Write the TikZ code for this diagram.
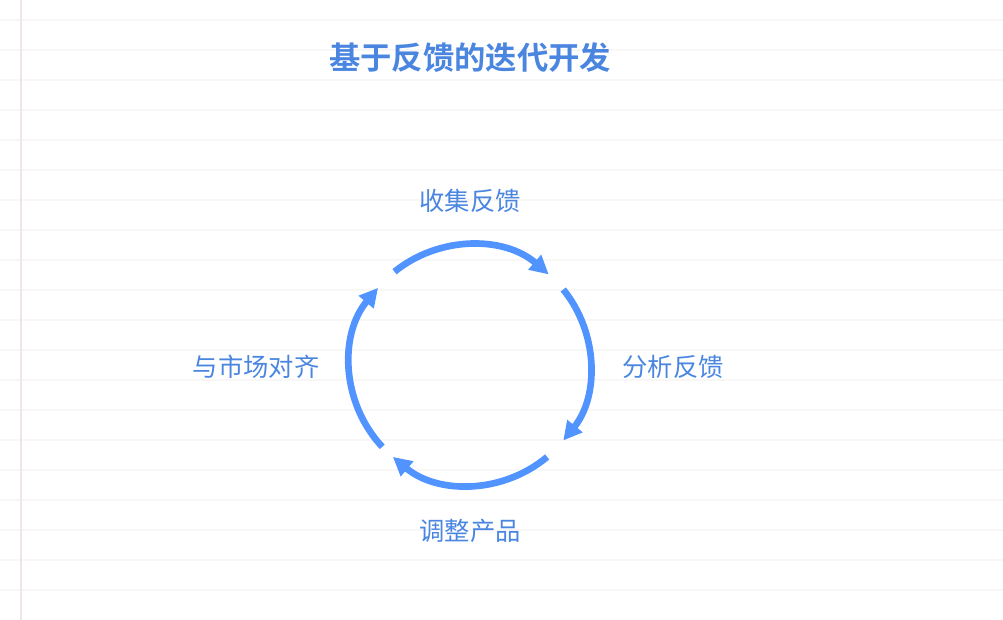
\documentclass[tikz,border=0pt]{standalone}
\usepackage{fontspec}
\usepackage{xcolor}
\usetikzlibrary{arrows.meta}
\setmainfont{Noto Sans CJK SC}
\newfontfamily\titlefont{Noto Sans CJK SC Bold}

\definecolor{loopblue}{HTML}{5294FF}
\definecolor{textblue}{HTML}{4A86E0}
\definecolor{ruleline}{HTML}{F9F6F6}
\definecolor{marginline}{HTML}{F0E6E9}

\tikzset{
  stage/.style={text=textblue,font=\fontsize{19}{21}\selectfont,inner sep=0},
  loop/.style={draw=loopblue,line width=5pt,-{Triangle[length=14pt,width=14pt]}}
}

\begin{document}
\begin{tikzpicture}[x=0.75pt,y=-0.75pt]
			\useasboundingbox (0,0) rectangle (1003,620);
			\foreach \k in {0,...,19}
				\draw[ruleline,line width=0.9pt] (0,20+30*\k)--(1003,20+30*\k);
			\draw[marginline,line width=0.9pt] (21,0)--(21,620);
			\node[text=textblue,font=\titlefont\fontsize{23.5}{26}\selectfont,inner sep=0] (title) at (470,58) {基于反馈的迭代开发};
			\coordinate (c) at (470,365);
			\node[stage] (collect) at (470,201) {收集反馈};
			\node[stage] (analyse) at (673,367) {分析反馈};
			\node[stage] (adjust) at (470,531) {调整产品};
			\node[stage] (align) at (256,367) {与市场对齐};
			% y axis points down, so angles run the other way
			\draw[loop] (c)++(-129:120) arc[start angle=-129,end angle=-49,radius=120];
			\draw[loop] (c)++(-39:120) arc[start angle=-39,end angle=39,radius=120];
			\draw[loop] (c)++(50:120) arc[start angle=50,end angle=130,radius=120];
			\draw[loop] (c)++(137:120) arc[start angle=137,end angle=220,radius=120];
		\end{tikzpicture}
\end{document}
